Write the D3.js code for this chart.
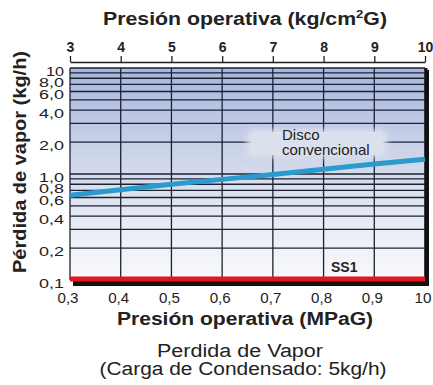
<!DOCTYPE html>
<html>
<head>
<meta charset="utf-8">
<script src="https://cdn.jsdelivr.net/npm/d3@7"></script>
<style>
  body { margin: 0; background: #fff; }
  svg { display: block; font-family: "Liberation Sans", Arial, sans-serif; }
</style>
</head>
<body>
<svg id="chart" width="433" height="385"></svg>
<script>
// data
let mpaTicks = [0.3, 0.4, 0.5, 0.6, 0.7, 0.8, 0.9, 1.0];
let mpaLabels = ["0,3", "0,4", "0,5", "0,6", "0,7", "0,8", "0,9", "10"];
let kgTicks = [3, 4, 5, 6, 7, 8, 9, 10];
let lossTicks = [10, 8, 6, 4, 2, 1, 0.8, 0.6, 0.4, 0.2, 0.1];
let lossLabels = ["10", "8,0", "6,0", "4,0", "2,0", "1,0", "0,8", "0,6", "0,4", "0,2", "0,1"];
let pressure = [0.3, 0.4, 0.5, 0.6, 0.7, 0.8, 0.9, 1.0];
let disco = [0.63, 0.71, 0.80, 0.89, 0.99, 1.11, 1.24, 1.38];
let ss1 = [0.102, 0.102, 0.102, 0.102, 0.102, 0.102, 0.102, 0.102];

let svg = d3.select("#chart");
let pLeft = 70, pRight = 425, pTop = 68, pBottom = 280;

let x = d3.scaleLinear().domain([0.3, 1.0]).range([pLeft, pRight]);
let xTop = d3.scaleLinear().domain([3, 10]).range([pLeft, pRight]);
let y = d3.scaleLog().domain([0.1, 10]).range([pBottom, pTop]);

// background gradient
let defs = svg.append("defs");
let grad = defs.append("linearGradient").attr("id", "bg")
    .attr("x1", 0).attr("y1", 0).attr("x2", 0).attr("y2", 1);
grad.append("stop").attr("offset", "0%").attr("stop-color", "#a7b6dd");
grad.append("stop").attr("offset", "40%").attr("stop-color", "#ccd4e9");
grad.append("stop").attr("offset", "70%").attr("stop-color", "#e5e9f2");
grad.append("stop").attr("offset", "100%").attr("stop-color", "#f8f9fb");

let blur = defs.append("filter").attr("id", "soft")
    .attr("x", "-20%").attr("y", "-30%").attr("width", "140%").attr("height", "160%");
blur.append("feGaussianBlur").attr("stdDeviation", 3);

// drop shadow right and bottom
svg.append("rect")
    .attr("x", pLeft + 3).attr("y", pTop + 2)
    .attr("width", pRight - pLeft + 1).attr("height", pBottom - pTop + 4)
    .attr("fill", "#111");

svg.append("rect")
    .attr("x", pLeft).attr("y", pTop)
    .attr("width", pRight - pLeft).attr("height", pBottom - pTop)
    .attr("fill", "url(#bg)");

// horizontal grid (full log grid)
let gridY = [];
for (let d = 0.1; d < 10; d *= 10) {
    for (let k = 1; k <= 10; k++) gridY.push(+(d * k).toFixed(3));
}
gridY = Array.from(new Set(gridY));

svg.append("g").selectAll("line").data(gridY).join("line")
    .attr("x1", pLeft).attr("x2", pRight)
    .attr("y1", d => y(d)).attr("y2", d => y(d))
    .attr("stroke", "#1b2233").attr("stroke-width", 1.3);

// vertical grid
svg.append("g").selectAll("line").data(mpaTicks).join("line")
    .attr("x1", d => x(d)).attr("x2", d => x(d))
    .attr("y1", pTop).attr("y2", pBottom)
    .attr("stroke", "#1b2233").attr("stroke-width", 1.3);

// label box that hides grid
svg.append("rect")
    .attr("x", 247).attr("y", 130).attr("width", 140).attr("height", 27)
    .attr("rx", 6)
    .attr("fill", "#dbe0ec")
    .attr("filter", "url(#soft)");
svg.append("rect")
    .attr("x", 252).attr("y", 132).attr("width", 130).attr("height", 23)
    .attr("fill", "#dbe0ec");

// right border
svg.append("line")
    .attr("x1", pRight + 1).attr("x2", pRight + 1)
    .attr("y1", pTop).attr("y2", pBottom)
    .attr("stroke", "#111").attr("stroke-width", 3);

// series lines
let line = d3.line()
    .x((d, i) => x(pressure[i]))
    .y(d => y(d));

svg.append("path")
    .attr("d", line(ss1))
    .attr("fill", "none")
    .attr("stroke", "#e3161c")
    .attr("stroke-width", 5);

svg.append("path")
    .attr("d", line(disco))
    .attr("fill", "none")
    .attr("stroke", "#2a9bcc")
    .attr("stroke-width", 5);

// series labels
let lab = svg.append("text")
    .attr("x", 282).attr("font-size", 15).attr("fill", "#222");
lab.append("tspan").attr("x", 282).attr("y", 140).text("Disco");
lab.append("tspan").attr("x", 282).attr("y", 155).text("convencional");

svg.append("text")
    .attr("x", 331).attr("y", 272)
    .attr("font-size", 14).attr("font-weight", "bold").attr("fill", "#222")
    .text("SS1");

// y tick labels: a bit below their line, pushed apart so they don't collide
let labelY = [];
lossTicks.forEach((d, i) => {
    let c = y(d) + 3;
    if (i > 0 && c < labelY[i - 1] + 11) c = labelY[i - 1] + 11;
    labelY.push(c);
});

svg.append("g").selectAll("text").data(lossTicks).join("text")
    .attr("x", 64).attr("y", (d, i) => labelY[i] + 4.8)
    .attr("text-anchor", "end")
    .attr("font-size", 13.5).attr("fill", "#222")
    .attr("textLength", (d, i) => lossLabels[i].length === 2 ? 18 : 25)
    .attr("lengthAdjust", "spacingAndGlyphs")
    .text((d, i) => lossLabels[i]);

// bottom tick labels
svg.append("g").selectAll("text").data(mpaTicks).join("text")
    .attr("x", d => x(d) - 2).attr("y", 303)
    .attr("text-anchor", "middle")
    .attr("font-size", 14).attr("fill", "#222")
    .attr("textLength", (d, i) => mpaLabels[i].length === 2 ? 17 : 21)
    .attr("lengthAdjust", "spacingAndGlyphs")
    .text((d, i) => mpaLabels[i]);

// top axis
let topAxis = svg.append("g").attr("transform", "translate(0,62)")
    .call(d3.axisTop(xTop).tickValues(kgTicks).tickSize(6).tickSizeOuter(0).tickFormat(d3.format("d")));
topAxis.select(".domain").attr("stroke", "#222").attr("stroke-width", 1.3);
topAxis.selectAll(".tick line").attr("stroke", "#222").attr("stroke-width", 1.3);
topAxis.selectAll(".tick text")
    .attr("font-family", "Liberation Sans, Arial, sans-serif")
    .attr("font-size", 14).attr("font-weight", "bold").attr("fill", "#222")
    .attr("dy", "-1px");

// titles
svg.append("text")
    .attr("x", 245).attr("y", 25)
    .attr("text-anchor", "middle")
    .attr("font-size", 18).attr("font-weight", "bold").attr("fill", "#222")
    .attr("textLength", 284).attr("lengthAdjust", "spacingAndGlyphs")
    .html("Presión operativa (kg/cm<tspan font-size='11' dy='-7'>2</tspan><tspan dy='7'>G)</tspan>");

svg.append("text")
    .attr("transform", "translate(26,162) rotate(-90)")
    .attr("text-anchor", "middle")
    .attr("font-size", 18).attr("font-weight", "bold").attr("fill", "#222")
    .attr("textLength", 222).attr("lengthAdjust", "spacingAndGlyphs")
    .text("Pérdida de vapor (kg/h)");

svg.append("text")
    .attr("x", 245).attr("y", 325)
    .attr("text-anchor", "middle")
    .attr("font-size", 18).attr("font-weight", "bold").attr("fill", "#222")
    .attr("textLength", 256).attr("lengthAdjust", "spacingAndGlyphs")
    .text("Presión operativa (MPaG)");

svg.append("text")
    .attr("x", 240).attr("y", 357)
    .attr("text-anchor", "middle")
    .attr("font-size", 18).attr("fill", "#222")
    .attr("textLength", 166).attr("lengthAdjust", "spacingAndGlyphs")
    .text("Perdida de Vapor");

svg.append("text")
    .attr("x", 243).attr("y", 375)
    .attr("text-anchor", "middle")
    .attr("font-size", 18).attr("fill", "#222")
    .attr("textLength", 287).attr("lengthAdjust", "spacingAndGlyphs")
    .text("(Carga de Condensado: 5kg/h)");
</script>
</body>
</html>
